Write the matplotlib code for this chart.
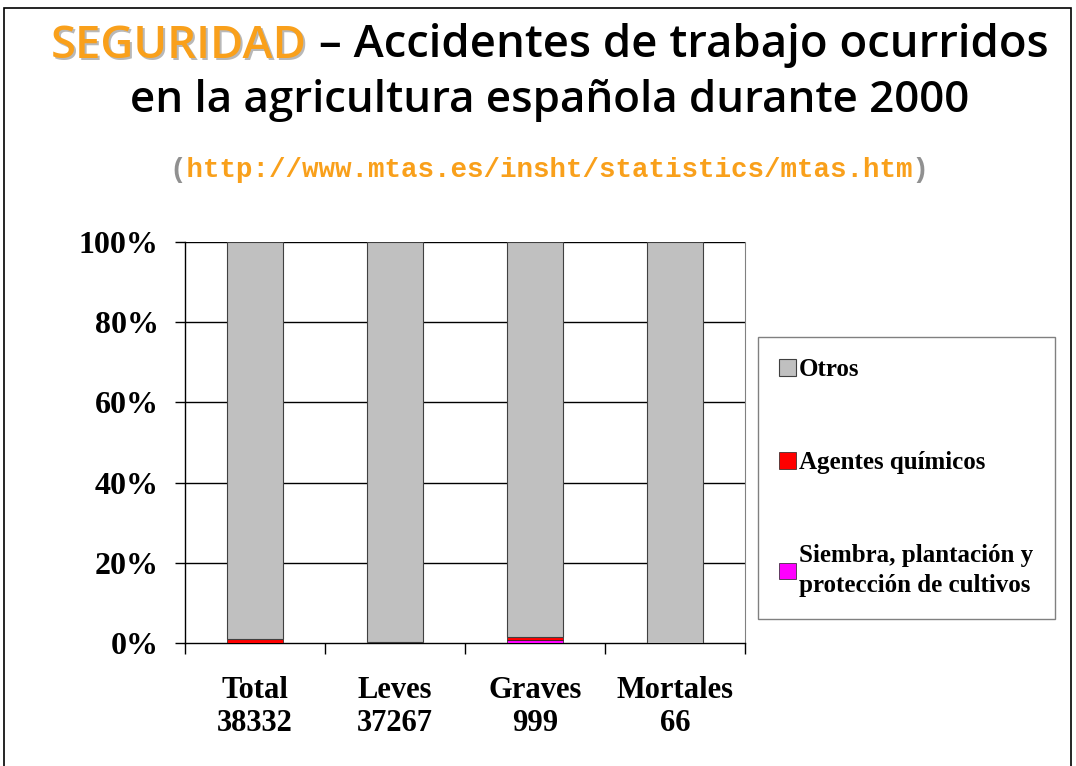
import matplotlib.pyplot as plt
from matplotlib.patches import Rectangle
import numpy as np

# data (percent of each category)
categories = ["Total\n38332", "Leves\n37267", "Graves\n999", "Mortales\n66"]
siembra = [0.1, 0.05, 0.7, 0.0]
quimicos = [0.8, 0.3, 0.8, 0.0]
otros = [100 - s - q for s, q in zip(siembra, quimicos)]

W, H = 1076, 766
fig = plt.figure(figsize=(W / 100, H / 100), dpi=100)
renderer = fig.canvas.get_renderer()

# outer frame
fig.patches.append(Rectangle((4 / W, -0.01), 1067 / W, 1 - 8 / H + 0.01,
                             transform=fig.transFigure, fill=False,
                             edgecolor="black", linewidth=1.2))

title_font = ["Open Sans", "DejaVu Sans"]
orange = "#F9A01B"


def colored_line(pieces, xc, yc, width_px, weight=600):
    # fit the font size to the target width, then lay pieces left to right
    full = "".join(p for p, _ in pieces)
    probe = fig.text(0, 0, full, family=title_font, size=30, weight=weight)
    size = 30 * width_px / probe.get_window_extent(renderer).width
    probe.remove()
    texts = [fig.text(0, 0, p, family=title_font, size=size, weight=weight,
                      color=c, va="center") for p, c in pieces]
    widths = [t.get_window_extent(renderer).width for t in texts]
    x0 = xc - sum(widths) / 2
    for t, w in zip(texts, widths):
        t.set_position((x0 / W, 1 - yc / H))
        x0 += w
    return texts


colored_line([("SEGURIDAD", "#B8B8B8"), (" – Accidentes de trabajo ocurridos", "none")],
             552, 48, 997)
colored_line([("SEGURIDAD", orange), (" – Accidentes de trabajo ocurridos", "black")],
             550, 46, 997)
colored_line([("en la agricultura española durante 2000", "black")], 550, 101, 839)

url = "(http://www.mtas.es/insht/statistics/mtas.htm)"
fig.text(550 / W, 1 - 170 / H, "(" + " " * (len(url) - 2) + ")",
         family="Liberation Mono", size=19.8, weight="bold", color="#909090",
         ha="center", va="center")
fig.text(550 / W, 1 - 170 / H, " " + url[1:-1] + " ",
         family="Liberation Mono", size=19.8, weight="bold", color=orange,
         ha="center", va="center")

# plot area
ax = fig.add_axes([185 / W, (H - 643) / H, 560 / W, 401 / H])
x = np.arange(len(categories))
bw = 0.395
ax.bar(x, siembra, bw, color="#FF00FF", edgecolor="#202020", linewidth=0.5,
       label="Siembra, plantación y\nprotección de cultivos", zorder=3)
ax.bar(x, quimicos, bw, bottom=siembra, color="#FF0000", edgecolor="#202020",
       linewidth=0.5, label="Agentes químicos", zorder=3)
bottom2 = [s + q for s, q in zip(siembra, quimicos)]
ax.bar(x, otros, bw, bottom=bottom2, color="#C0C0C0", edgecolor="#404040",
       linewidth=0.8, label="Otros", zorder=3)

ax.set_xlim(-0.5, len(categories) - 0.5)
ax.set_ylim(0, 100)
ax.set_yticks(np.arange(0, 101, 20))
ax.set_yticklabels([f"{v}%" for v in range(0, 101, 20)])
for v in range(20, 101, 20):
    ax.axhline(v, color="black", linewidth=1.0, zorder=1)

ax.set_xticks(np.arange(-0.5, len(categories), 1.0))
ax.set_xticklabels([])
ax.set_xticks(x, minor=True)
ax.set_xticklabels(categories, minor=True)
ax.tick_params(axis="x", which="major", direction="out", length=8, width=1)
ax.tick_params(axis="x", which="minor", length=0, pad=24)
ax.tick_params(axis="y", direction="out", length=7, width=1, pad=12)
for lab in ax.get_yticklabels() + ax.get_xticklabels(minor=True):
    lab.set_family("Liberation Serif")
    lab.set_weight("bold")
    lab.set_size(23)
for lab in ax.get_xticklabels(minor=True):
    lab.set_size(22)
    lab.set_linespacing(1.15)

ax.spines["top"].set_visible(False)
ax.spines["right"].set_color("#808080")
ax.spines["left"].set_linewidth(1)
ax.spines["bottom"].set_linewidth(1)

h, l = ax.get_legend_handles_labels()
leg = fig.legend(h[::-1], l[::-1], loc="upper left",
                 bbox_to_anchor=(758 / W, 1 - 337 / H),
                 prop={"family": "Liberation Serif", "weight": "bold", "size": 18},
                 frameon=True, fancybox=False, edgecolor="#606060",
                 borderpad=0.85, labelspacing=2.8, handlelength=0.65,
                 handleheight=0.65, handletextpad=0.15, borderaxespad=0)
leg.get_frame().set_linewidth(1)
for t in leg.get_texts():
    t.set_linespacing(1.4)

fig.savefig("out.png", dpi=100)
